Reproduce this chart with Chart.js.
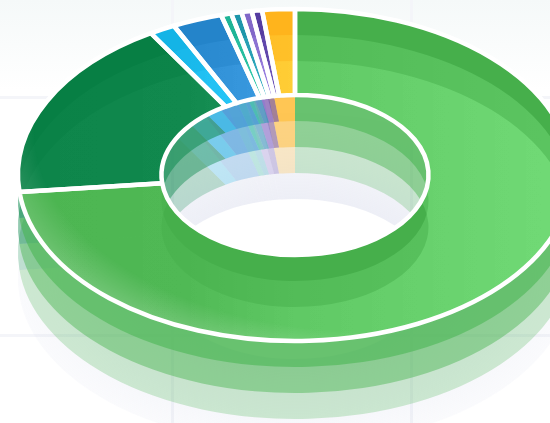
<!DOCTYPE html>
<html><head><meta charset="utf-8">
<script src="https://cdn.jsdelivr.net/npm/chart.js@4"></script>
<style>
html,body{margin:0;padding:0;width:550px;height:423px;overflow:hidden;background:#fff}
#bg{position:absolute;left:0;top:0;width:550px;height:423px;
 background:
  linear-gradient(#f4f5f9,#f4f5f9) 171px 0/3px 423px no-repeat,
  linear-gradient(#f4f5f9,#f4f5f9) 410px 0/3px 423px no-repeat,
  linear-gradient(#f4f5f9,#f4f5f9) 0 96px/550px 3px no-repeat,
  linear-gradient(#f4f5f9,#f4f5f9) 0 334px/550px 3px no-repeat,
  linear-gradient(#f5f9f9,#ffffff 90px) 0 0/550px 423px no-repeat}
canvas{position:absolute;left:0;top:0}
</style></head><body><div id="bg"></div><div id="stack"></div>
<script>
const categories=['Segment 1','Segment 2','Segment 3','Segment 4','Segment 5','Segment 6','Segment 7','Segment 8','Segment 9'];
const values=[73.3,17.9,1.5,2.9,0.6,0.6,0.6,0.6,1.9];
const baseColors=['#46af4b','#077f44','#14b4e6','#2484ca','#1eb496','#1e96aa','#8268c8','#553ca0','#ffb41c'];
const ghostColors=['#46b44e','#0f8a50','#1eb9e6','#2d8cd2','#1eb996','#1e9bb4','#8c6ecd','#5a3ca5','#ffb92d'];
const ghostOffsets=[104,78,52,26];
const ghostAlphas=[0.13,0.25,0.45,0.55];
const overlayOffsets=[26,52];

const CX=295,CY=175,R=277,K=166/277,CUT=0.482,SIZE=590;
const stack=document.getElementById('stack');
function rgba(hex,a){const n=parseInt(hex.slice(1),16);return `rgba(${n>>16},${(n>>8)&255},${n&255},${a})`;}

function layer(opts){
 const c=document.createElement('canvas');c.width=SIZE;c.height=SIZE;
 c.style.width=SIZE+'px';c.style.height=SIZE+'px';
 if(opts.blend) c.style.mixBlendMode=opts.blend;
 stack.appendChild(c);
 const ctx=c.getContext('2d');
 const colors=opts.colors(ctx);
 new Chart(c,{type:'doughnut',
  data:{labels:categories,datasets:[{data:values,backgroundColor:colors,
    borderColor:opts.border?'#ffffff':'rgba(0,0,0,0)',borderWidth:opts.border||0,borderJoinStyle:'round',clip:false}]},
  options:{responsive:false,animation:false,devicePixelRatio:1,radius:R,cutout:(CUT*100)+'%',
    layout:{padding:0},plugins:{legend:{display:false},tooltip:{enabled:false}},events:[]},
  plugins:[{id:'flatten',
   beforeDatasetsDraw(chart){
    const x=chart.ctx,cx=(chart.chartArea.left+chart.chartArea.right)/2,cy=(chart.chartArea.top+chart.chartArea.bottom)/2;
    x.save();
    if(opts.clipTop){
     x.beginPath();
     x.ellipse(CX,CY,R,R*K,0,0,Math.PI*2);
     x.ellipse(CX,CY,R*CUT,R*CUT*K,0,0,Math.PI*2);
     x.clip('evenodd');
    }
    x.translate(CX,CY+(opts.offset||0));x.scale(1,K);x.translate(-cx,-cy);
    if(opts.border){
     const s=x.stroke;
     x.stroke=function(){x.save();x.setTransform(1,0,0,1,0,0);s.call(x);x.restore();};
    }
   },
   afterDatasetsDraw(chart){
    const x=chart.ctx;
    if(opts.border){delete x.stroke;}
    x.restore();
   }}]
 });
}

// translucent copies falling below the ring
ghostOffsets.forEach((off,i)=>{
 layer({offset:off,colors:(ctx)=>{
  if(off!==104) return ghostColors.map(h=>rgba(h,ghostAlphas[i]));
  const g=ctx.createRadialGradient(295,295,130,295,295,277);
  g.addColorStop(0,'rgba(200,205,228,0.33)');
  g.addColorStop(1,'rgba(205,210,232,0.10)');
  return values.map(()=>g);
 }});
});
// opaque top ring
layer({offset:0,colors:()=>baseColors});
// lighter bands seen through the top ring
overlayOffsets.forEach(off=>{
 layer({offset:off,clipTop:true,blend:'plus-lighter',colors:(ctx)=>{
  const g=ctx.createLinearGradient(18,0,572,0);
  g.addColorStop(0,'rgba(255,255,255,0.012)');
  g.addColorStop(0.3,'rgba(255,255,255,0.02)');
  g.addColorStop(0.5,'rgba(255,255,255,0.05)');
  g.addColorStop(1,'rgba(255,255,255,0.085)');
  return values.map(()=>g);
 }});
});
// soft light on the left rim
layer({offset:0,colors:(ctx)=>{
 const g=ctx.createRadialGradient(370,220,335,370,220,392);
 g.addColorStop(0,'rgba(255,255,255,0)');
 g.addColorStop(1,'rgba(255,255,255,0.24)');
 return values.map(()=>g);
}});
// white separators and outline
layer({offset:0,border:4.5,colors:()=>values.map(()=>'rgba(0,0,0,0)')});
</script></body></html>
